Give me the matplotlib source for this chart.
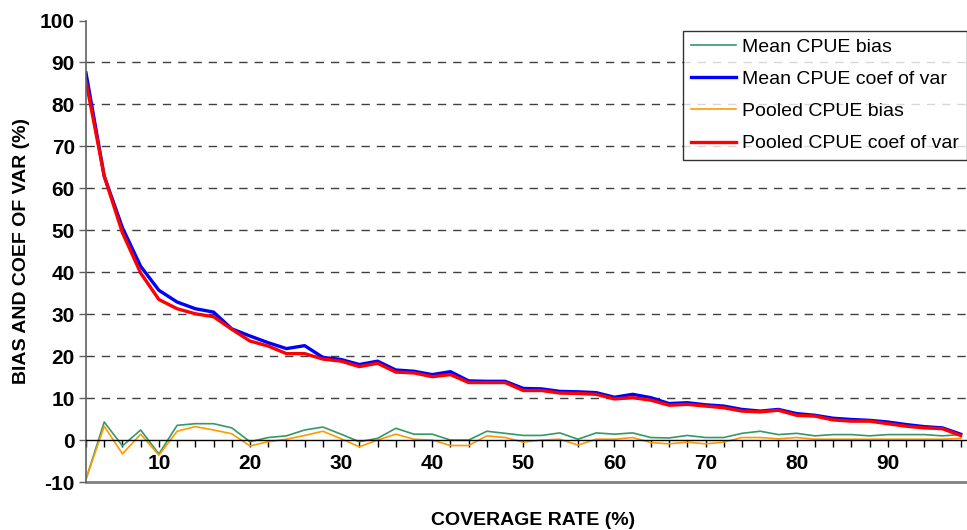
import matplotlib
matplotlib.use("Agg")
import matplotlib.pyplot as plt
from matplotlib.ticker import MultipleLocator, FixedLocator

plt.rcParams['font.family'] = ['Liberation Sans', 'DejaVu Sans']
plt.rcParams['axes.unicode_minus'] = False

coverage = list(range(2, 100, 2))

mean_bias = [-9.3, 4.3, -1.4, 2.4, -3.3, 3.5, 3.9, 3.9, 2.9, -0.4,
             0.6, 1.0, 2.4, 3.1, 1.4, -0.4, 0.4, 2.8, 1.4, 1.4,
             0.0, 0.0, 2.1, 1.6, 1.1, 1.1, 1.7, 0.2, 1.7, 1.4,
             1.7, 0.6, 0.5, 1.1, 0.6, 0.6, 1.6, 2.1, 1.3, 1.6,
             1.0, 1.3, 1.3, 1.0, 1.3, 1.3, 1.3, 1.0, 1.3]

mean_cv = [87.5, 62.9, 50.6, 41.4, 35.7, 32.9, 31.3, 30.5, 26.5, 24.8,
           23.2, 21.8, 22.5, 19.7, 19.2, 18.0, 18.8, 16.7, 16.4, 15.6,
           16.3, 14.1, 14.0, 14.0, 12.3, 12.2, 11.6, 11.5, 11.3, 10.2,
           10.9, 10.1, 8.7, 8.9, 8.4, 8.1, 7.3, 6.9, 7.3, 6.3,
           5.9, 5.2, 4.9, 4.7, 4.3, 3.7, 3.2, 2.9, 1.4]

pooled_bias = [-9.3, 3.3, -3.3, 1.4, -3.6, 2.1, 3.2, 2.4, 1.5, -1.4,
               -0.4, 0.2, 1.1, 2.1, 0.3, -1.6, 0.0, 1.4, 0.2, 0.0,
               -1.3, -1.3, 1.0, 0.6, -0.5, 0.0, 0.2, -1.2, 0.2, 0.2,
               0.6, -0.6, -0.9, -0.5, -0.9, -0.5, 0.6, 0.6, 0.3, 0.6,
               0.2, 0.2, 0.2, 0.2, 0.2, 0.2, 0.2, 0.2, 0.4]

pooled_cv = [85.5, 62.9, 49.4, 39.8, 33.5, 31.3, 30.1, 29.4, 26.4, 23.6,
             22.4, 20.6, 20.6, 19.3, 18.8, 17.5, 18.3, 16.2, 16.0, 15.1,
             15.6, 13.7, 13.7, 13.7, 11.8, 11.8, 11.2, 11.1, 10.9, 9.8,
             10.1, 9.5, 8.3, 8.5, 8.1, 7.7, 6.9, 6.7, 7.1, 5.9,
             5.7, 4.8, 4.5, 4.5, 3.9, 3.3, 2.9, 2.7, 1.1]

series_labels = ["Mean CPUE bias", "Mean CPUE coef of var",
                 "Pooled CPUE bias", "Pooled CPUE coef of var"]
y_ticks = list(range(-10, 101, 10))
grid_levels = list(range(10, 91, 10))
x_ticks = list(range(10, 91, 10))

fig = plt.figure(figsize=(9.67, 5.30), dpi=100)
ax = fig.add_axes([86 / 967, 48 / 530, 881 / 967, 461.5 / 530])

ax.plot(coverage, mean_bias, color='#339966', lw=1.2, label=series_labels[0])
ax.plot(coverage, mean_cv, color='#0000FF', lw=2.4, label=series_labels[1])
ax.plot(coverage, pooled_bias, color='#FF9900', lw=1.2, label=series_labels[2])
ax.plot(coverage, pooled_cv, color='#FF0000', lw=2.4, label=series_labels[3])

ax.set_xlim(2, 98.7)
ax.set_ylim(-10, 100)

# horizontal dashed gridlines (10..90 only)
ax.set_yticks(y_ticks)
for g in grid_levels:
    ax.axhline(g, linestyle=(0, (6, 5)), color='#404040', lw=1.0, zorder=0.4)

# x axis drawn along y = 0
ax.spines['bottom'].set_position(('data', 0))
ax.spines['bottom'].set_color('black')
ax.spines['bottom'].set_linewidth(1.0)
ax.axhline(-10, color='#808080', lw=2.0, clip_on=False, zorder=0.5)
ax.spines['top'].set_visible(False)
ax.spines['right'].set_visible(False)
ax.spines['left'].set_color('#606060')
ax.spines['left'].set_linewidth(1.2)

ax.xaxis.set_major_locator(FixedLocator(x_ticks))
ax.xaxis.set_minor_locator(MultipleLocator(2))
ax.tick_params(axis='x', which='both', direction='out', length=5, width=1, color='black')
ax.tick_params(axis='x', which='major', pad=5, labelsize=15)
ax.tick_params(axis='y', direction='out', length=5, width=1, color='#606060', labelsize=15, pad=3)
for lbl in ax.get_xticklabels() + ax.get_yticklabels():
    lbl.set_fontweight('bold')

ax.set_xlabel("COVERAGE RATE (%)", fontsize=14, fontweight='bold', labelpad=0)
ax.xaxis.set_label_coords(0.508, -0.065)
ax.set_ylabel("BIAS AND COEF OF VAR (%)", fontsize=14, fontweight='bold', labelpad=0)
ax.yaxis.set_label_coords(-0.063, 0.5)

leg = ax.legend(loc='upper left', bbox_to_anchor=((683 - 86) / 881, 1 - 10 / 461.5),
                bbox_transform=ax.transAxes, fontsize=14, frameon=True, fancybox=False,
                handlelength=2.3, labelspacing=0.75, borderpad=0.4, handletextpad=0.35,
                borderaxespad=0)
leg.get_frame().set_edgecolor('black')
leg.get_frame().set_linewidth(1.0)

fig.savefig("out.png", dpi=100)
